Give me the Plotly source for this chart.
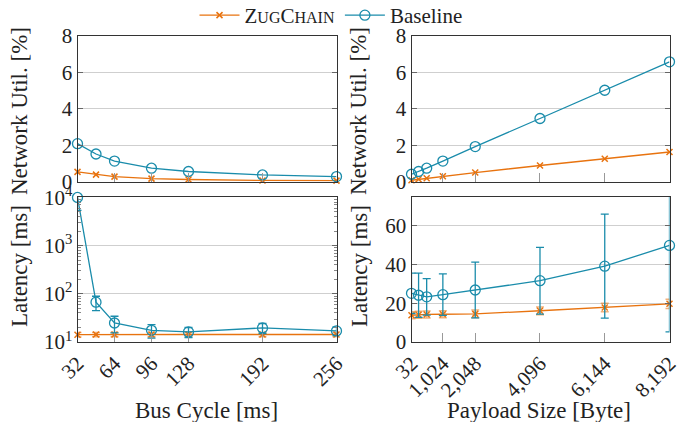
import plotly.graph_objects as go

# ---------------- data ----------------
bus_cycle = [32, 48, 64, 96, 128, 192, 256]
bus_ticks = [32, 64, 96, 128, 192, 256]
zug_util_bus = [0.54, 0.39, 0.28, 0.17, 0.12, 0.07, 0.06]
base_util_bus = [2.09, 1.52, 1.13, 0.74, 0.56, 0.37, 0.28]
zug_lat_bus = [14.2, 14.3, 14.3, 14.3, 14.3, 14.3, 14.3]
zug_lat_bus_err = [1.5, 1.5, 1.5, 1.5, 1.5, 1.5, 1.5]
base_lat_bus = [10000, 67, 24.8, 17.5, 16.2, 19.6, 17.0]
base_lat_bus_err = [4600, 22, 9.4, 5.5, 3.8, 4.6, 3.5]

payload = [32, 256, 512, 1024, 2048, 4096, 6144, 8192]
payload_ticks = [32, 1024, 2048, 4096, 6144, 8192]
payload_ticktext = ["32", "1,024", "2,048", "4,096", "6,144", "8,192"]
zug_util_pay = [0.08, 0.13, 0.19, 0.30, 0.50, 0.89, 1.26, 1.63]
base_util_pay = [0.41, 0.56, 0.74, 1.13, 1.93, 3.47, 5.02, 6.58]
zug_lat_pay = [13.8, 14.0, 14.2, 14.3, 14.5, 16.1, 17.8, 19.7]
zug_lat_pay_err = [1.8, 1.8, 1.8, 1.8, 2.0, 2.0, 2.2, 2.4]
base_lat_pay = [25.1, 24.1, 23.3, 24.4, 26.8, 31.6, 39.1, 49.8]
base_lat_pay_err = [10.4, 11.4, 9.4, 10.7, 14.4, 17.2, 26.8, 44.6]

log_ticks = [10, 100, 1000, 10000]
log_ticktext = ["10<sup>1</sup>", "10<sup>2</sup>", "10<sup>3</sup>", "10<sup>4</sup>"]
log_minor = [20, 30, 40, 50, 60, 70, 80, 90,
             200, 300, 400, 500, 600, 700, 800, 900,
             2000, 3000, 4000, 5000, 6000, 7000, 8000, 9000]

# ---------------- style ----------------
ORANGE = "#E8730F"
ORANGE_ERR = "rgba(232,115,15,0.55)"
TEAL = "#1A8CAB"
FONT = "'Liberation Serif', 'DejaVu Serif', serif"
FS_TICK = 21
FS_TITLE = 23
FS_LEG = 21

fig = go.Figure()


def add_pair(xa, ya, x, zug, base, zug_err=None, base_err=None, legend=False):
    fig.add_trace(go.Scatter(
        x=x, y=zug, xaxis=xa, yaxis=ya, mode="lines+markers",
        name="Z<span style='font-size:16px'>UG</span>C<span style='font-size:16px'>HAIN</span>",
        showlegend=legend, legendgroup="zug",
        line=dict(color=ORANGE, width=1.3),
        marker=dict(symbol="x-thin-open", size=6, line=dict(color=ORANGE, width=1.5)),
        error_y=(dict(type="data", array=zug_err, visible=True, color=ORANGE_ERR,
                      thickness=1.5, width=4) if zug_err else None),
        cliponaxis=False,
    ))
    fig.add_trace(go.Scatter(
        x=x, y=base, xaxis=xa, yaxis=ya, mode="lines+markers",
        name="Baseline", showlegend=legend, legendgroup="base",
        line=dict(color=TEAL, width=1.3),
        marker=dict(symbol="circle-open", size=10, color=TEAL, line=dict(color=TEAL, width=1.3)),
        error_y=(dict(type="data", array=base_err, visible=True, color=TEAL,
                      thickness=1.3, width=4) if base_err else None),
        cliponaxis=False,
    ))


add_pair("x", "y", bus_cycle, zug_util_bus, base_util_bus, legend=True)
add_pair("x2", "y2", payload, zug_util_pay, base_util_pay)
add_pair("x3", "y3", bus_cycle, zug_lat_bus, base_lat_bus, zug_lat_bus_err, base_lat_bus_err)
add_pair("x4", "y4", payload, zug_lat_pay, base_lat_pay, zug_lat_pay_err, base_lat_pay_err)

W, H = 692, 422
OFF = 8  # page body margin of the browser


def px(x):
    return (x - OFF) / W


def py(y):
    return 1 - (y - OFF) / H


LX = [px(77.5), px(336.5)]
RX = [px(411.5), px(669.5)]
TOPY = [py(181.7), py(36)]
BOTY = [py(342), py(196.5)]

tickfont = dict(family=FONT, size=FS_TICK, color="#222")

xbase = dict(showline=True, linecolor="#333", linewidth=1, mirror=True, showgrid=False,
             ticks="inside", ticklen=9, tickcolor="#999", tickwidth=1.2, zeroline=False,
             tickfont=tickfont, automargin=False)
ybase = dict(showline=True, linecolor="#333", linewidth=1, mirror="ticks", showgrid=True,
             gridcolor="#cfcfcf", gridwidth=1.3, ticks="inside", ticklen=5, tickcolor="#666",
             zeroline=False, tickfont=tickfont, automargin=False)

fig.update_layout(
    width=W, height=H,
    margin=dict(l=0, r=0, t=0, b=0, autoexpand=False),
    paper_bgcolor="white", plot_bgcolor="white",
    font=dict(family=FONT, size=FS_TICK, color="#222"),
    showlegend=True,
    legend=dict(orientation="h", x=px(331), xanchor="center", y=py(-5), yanchor="top",
                font=dict(family=FONT, size=FS_LEG), itemwidth=40, tracegroupgap=0,
                bgcolor="rgba(0,0,0,0)"),
    xaxis=dict(xbase, domain=LX, anchor="y", range=[32, 256], tickvals=bus_ticks,
               showticklabels=False),
    yaxis=dict(ybase, domain=TOPY, anchor="x", range=[0, 8], tickvals=[0, 2, 4, 6, 8]),
    xaxis2=dict(xbase, domain=RX, anchor="y2", range=[32, 8192], tickvals=payload_ticks,
                showticklabels=False),
    yaxis2=dict(ybase, domain=TOPY, anchor="x2", range=[0, 8], tickvals=[0, 2, 4, 6, 8]),
    xaxis3=dict(xbase, domain=LX, anchor="y3", range=[32, 256], tickvals=bus_ticks,
                tickangle=-45),
    yaxis3=dict(ybase, domain=BOTY, anchor="x3", type="log", range=[1, 4.02],
                tickvals=log_ticks, ticktext=log_ticktext,
                minor=dict(tickvals=log_minor, ticks="inside", ticklen=3,
                           tickcolor="#888", showgrid=False)),
    xaxis4=dict(xbase, domain=RX, anchor="y4", range=[32, 8192], tickvals=payload_ticks,
                ticktext=payload_ticktext, tickangle=-45),
    yaxis4=dict(ybase, domain=BOTY, anchor="x4", range=[0, 75], tickvals=[0, 20, 40, 60]),
)

ann = []
for (x, y, t) in [(19, 111, "Network Util. [%]"), (19, 266, "Latency [ms]"),
                  (358, 111, "Network Util. [%]"), (359, 266, "Latency [ms]")]:
    ann.append(dict(text=t, x=px(x), y=py(y), xref="paper", yref="paper",
                    textangle=-90, showarrow=False, xanchor="center", yanchor="middle",
                    font=dict(family=FONT, size=FS_TITLE, color="#222")))
for (x, y, t) in [(206, 410, "Bus Cycle [ms]"), (539, 410, "Payload Size [Byte]")]:
    ann.append(dict(text=t, x=px(x), y=py(y), xref="paper", yref="paper",
                    showarrow=False, xanchor="center", yanchor="middle",
                    font=dict(family=FONT, size=FS_TITLE, color="#222")))
fig.update_layout(annotations=ann)

fig.write_html("out.html")
